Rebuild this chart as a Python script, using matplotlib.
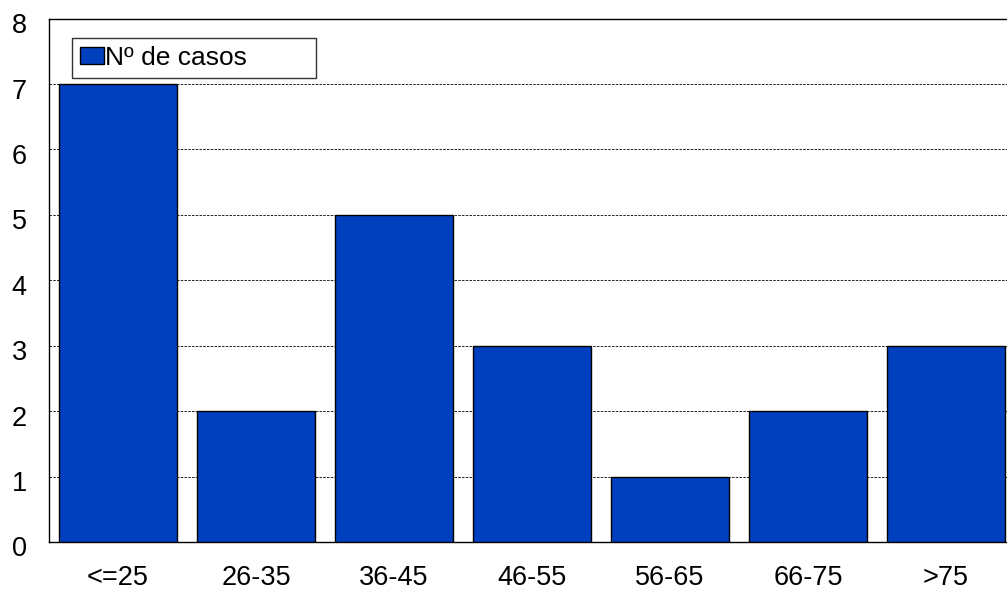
import matplotlib
matplotlib.use("Agg")
import matplotlib.pyplot as plt
import matplotlib.transforms as mtransforms
from matplotlib.patches import Patch

categories = ["<=25", "26-35", "36-45", "46-55", "56-65", "66-75", ">75"]
values = [7, 2, 5, 3, 1, 2, 3]
series_name = "Nº de casos"

plt.rcParams['font.family'] = ['Liberation Sans', 'DejaVu Sans']

fig = plt.figure(figsize=(10.07, 5.92), dpi=100)
# axes extends slightly past the right edge of the figure, as in the reference
ax = fig.add_axes([49 / 1007, 50 / 592, 966 / 1007, 523.4 / 592])

x = list(range(len(categories)))
ax.bar(x, values, width=0.855, color="#0040BF", edgecolor="black", linewidth=1.0, zorder=3)

ax.set_xlim(-0.5, len(categories) - 0.5)
ax.set_ylim(0, 8)
ax.set_yticks(range(0, 9))
ax.set_xticks(x)
ax.set_xticklabels(categories)
ax.tick_params(axis='both', length=0, labelsize=19.5)
ax.tick_params(axis='x', pad=16.5)
ax.tick_params(axis='y', pad=16)
# reference y labels sit a few pixels below their gridlines
offset = mtransforms.ScaledTranslation(0, -4.5 / 100, fig.dpi_scale_trans)
for lbl in ax.get_yticklabels():
    lbl.set_transform(lbl.get_transform() + offset)
ax.yaxis.grid(True, color="black", linestyle=(0, (3, 1.5)), linewidth=0.6, zorder=0)
for s in ax.spines.values():
    s.set_linewidth(1.0)
    s.set_color("black")

leg = ax.legend(handles=[Patch(facecolor="#0040BF", edgecolor="black", label=series_name)],
                loc="upper left", bbox_to_anchor=(23 / 966, 0.8865, 244 / 966, 0.0765),
                mode="expand", fontsize=19,
                frameon=True, fancybox=False, edgecolor="black", handlelength=0.9,
                handleheight=0.6, handletextpad=0.05, borderpad=0.3, borderaxespad=0)
leg.get_frame().set_linewidth(1.0)

fig.savefig("out.png", dpi=100)
